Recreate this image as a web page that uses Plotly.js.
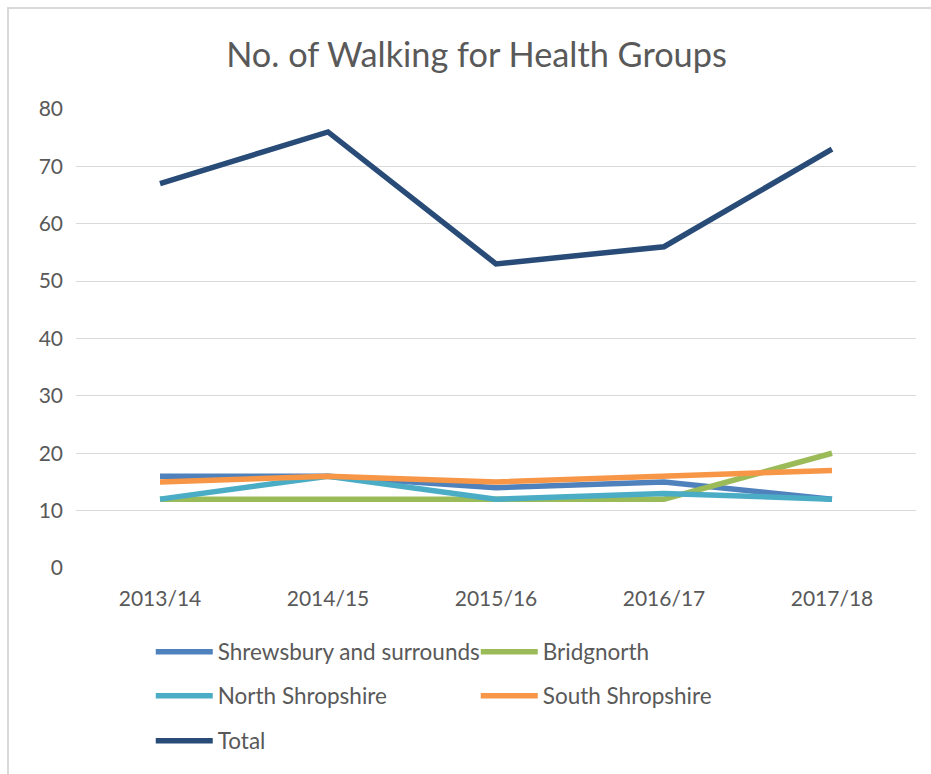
<!DOCTYPE html>
<html>
<head>
<meta charset="utf-8">
<script src="https://cdn.plot.ly/plotly-3.0.1.min.js"></script>
<style>
  html, body { margin: 0; padding: 0; background: #ffffff; }
  #frame { position: absolute; left: 7px; top: 7px; width: 924px; height: 767px;
           border-left: 2px solid #d9d9d9; border-top: 2px solid #d9d9d9; box-sizing: border-box; }
  #chart { position: absolute; left: 0; top: 0; width: 931px; height: 774px; }
</style>
</head>
<body>
<div id="frame"></div>
<div id="chart"></div>
<script>
const years = ["2013/14", "2014/15", "2015/16", "2016/17", "2017/18"];
const shrewsbury = [16, 16, 14, 15, 12];
const bridgnorth = [12, 12, 12, 12, 20];
const northShropshire = [12, 16, 12, 13, 12];
const southShropshire = [15, 16, 15, 16, 17];
const total = [67, 76, 53, 56, 73];

const seriesNames = ["Shrewsbury and surrounds", "Bridgnorth", "North Shropshire", "South Shropshire", "Total"];
const seriesData = [shrewsbury, bridgnorth, northShropshire, southShropshire, total];
const seriesColors = ["#4F81BD", "#9BBB59", "#4BACC6", "#F79646", "#284C77"];
const seriesLegends = ["legend", "legend", "legend2", "legend2", "legend3"];

const traces = seriesData.map((vals, i) => ({
  type: "scatter",
  mode: "lines",
  x: years,
  y: vals,
  name: seriesNames[i],
  legend: seriesLegends[i],
  line: { color: seriesColors[i], width: 5.5 },
  hoverinfo: "x+y+name"
}));

const legendBase = {
  orientation: "h",
  xanchor: "left",
  yanchor: "middle",
  x: 0.089,
  font: { family: "Lato, 'Noto Sans', sans-serif", size: 22.5, color: "#595959" },
  itemwidth: 57,
  entrywidth: 253,
  entrywidthmode: "pixels",
  bgcolor: "rgba(0,0,0,0)",
  borderwidth: 0,
  traceorder: "normal"
};

const plotTop = 109, plotBottom = 568;
const paperY = py => (plotBottom - py) / (plotBottom - plotTop);

const layout = {
  width: 931,
  height: 774,
  margin: { l: 76, r: 15, t: plotTop, b: 774 - plotBottom },
  paper_bgcolor: "rgba(0,0,0,0)",
  plot_bgcolor: "rgba(0,0,0,0)",
  font: { family: "Lato, 'Noto Sans', sans-serif", color: "#595959" },
  title: {
    text: "No. of Walking for Health Groups",
    font: { family: "Lato, 'Noto Sans', sans-serif", size: 34.3, color: "#595959" },
    x: 476.5 / 931, xanchor: "center", xref: "container",
    y: 1 - 55 / 774, yanchor: "middle", yref: "container"
  },
  xaxis: {
    type: "category",
    range: [-0.5, 4.5],
    showgrid: false,
    zeroline: false,
    showline: false,
    ticks: "",
    ticklabelstandoff: 16,
    tickfont: { size: 21, color: "#595959" }
  },
  yaxis: {
    range: [0, 80],
    dtick: 10,
    showgrid: true,
    gridcolor: "#d9d9d9",
    gridwidth: 1,
    zeroline: false,
    showline: false,
    ticks: "",
    ticklabelstandoff: 12,
    tickfont: { size: 21, color: "#595959" }
  },
  showlegend: true,
  legend: Object.assign({}, legendBase, { y: paperY(652) }),
  legend2: Object.assign({}, legendBase, { y: paperY(696) }),
  legend3: Object.assign({}, legendBase, { y: paperY(741) })
};

Plotly.newPlot("chart", traces, layout, { displayModeBar: false, responsive: false });
</script>
</body>
</html>
